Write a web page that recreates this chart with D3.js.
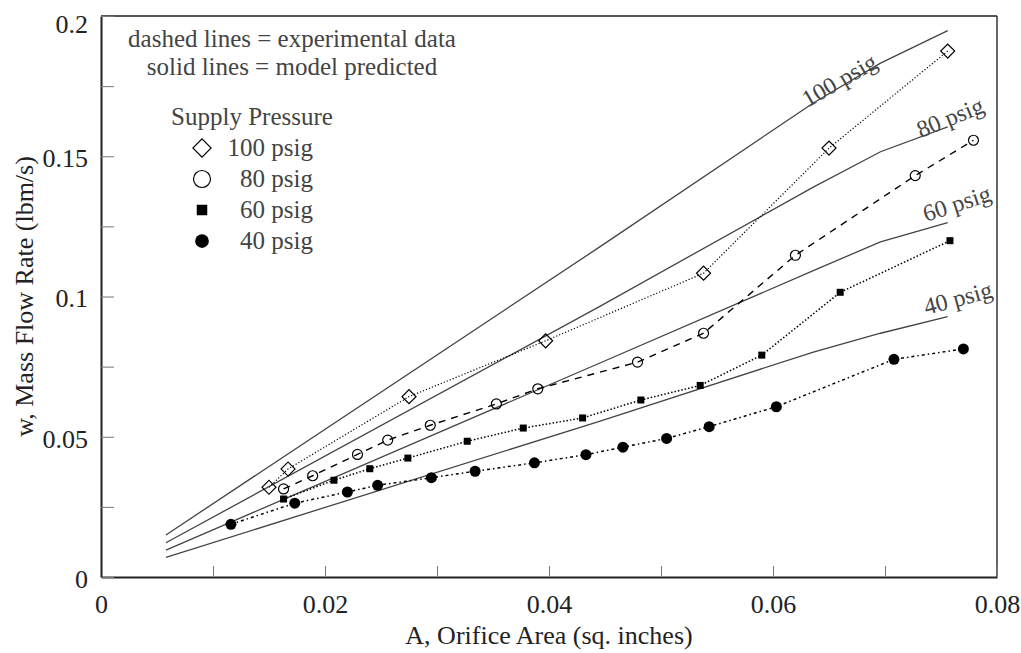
<!DOCTYPE html>
<html>
<head>
<meta charset="utf-8">
<script src="https://cdn.jsdelivr.net/npm/d3@7"></script>
<style>
  html, body { margin: 0; padding: 0; background: #fff; }
</style>
</head>
<body>
<div id="chart"></div>
<script>
// axis ticks
const xTicks = [0, 0.02, 0.04, 0.06, 0.08];
const xMinorTicks = [0.01, 0.03, 0.05, 0.07];
const xTickLabels = ['0', '0.02', '0.04', '0.06', '0.08'];
const yTicks = [0, 0.05, 0.1, 0.15, 0.2];
const yMinorTicks = [0.025, 0.075, 0.125, 0.175];
const yTickLabels = ['0', '0.05', '0.1', '0.15', '0.2'];

// experimental data (orifice area, mass flow)
const area100 = [0.0150, 0.0167, 0.0275, 0.0397, 0.0538, 0.0650, 0.0756];
const flow100 = [0.0320, 0.0385, 0.0643, 0.0842, 0.1083, 0.1529, 0.1875];

const area80 = [0.0163, 0.0189, 0.0229, 0.0256, 0.0294, 0.0353, 0.0390, 0.0479, 0.0538, 0.0620, 0.0727, 0.0779];
const flow80 = [0.0314, 0.0361, 0.0437, 0.0488, 0.0541, 0.0617, 0.0671, 0.0766, 0.0869, 0.1147, 0.1431, 0.1557];

const area60 = [0.0163, 0.0208, 0.0240, 0.0274, 0.0327, 0.0377, 0.0430, 0.0482, 0.0535, 0.0590, 0.0660, 0.0758];
const flow60 = [0.0278, 0.0345, 0.0386, 0.0424, 0.0484, 0.0531, 0.0567, 0.0631, 0.0683, 0.0791, 0.1015, 0.1199];

const area40 = [0.0116, 0.0173, 0.0220, 0.0247, 0.0295, 0.0334, 0.0387, 0.0433, 0.0466, 0.0505, 0.0543, 0.0603, 0.0708, 0.0770];
const flow40 = [0.0188, 0.0263, 0.0303, 0.0327, 0.0354, 0.0377, 0.0407, 0.0436, 0.0463, 0.0494, 0.0536, 0.0607, 0.0776, 0.0813];

// model predicted curves
const modelArea = [0.0058, 0.0445, 0.0636, 0.0696, 0.0756];
const model100 = [0.0150, 0.1176, 0.1690, 0.1832, 0.1948];
const model80 = [0.0122, 0.0964, 0.1390, 0.1516, 0.1605];
const model60 = [0.0096, 0.0762, 0.1092, 0.1195, 0.1263];
const model40 = [0.0070, 0.0555, 0.0802, 0.0869, 0.0928];

// curve labels: position in data units, rotation
const curveLabels = ['100 psig', '80 psig', '60 psig', '40 psig'];
const curveLabelX = [0.0659, 0.0758, 0.0764, 0.0765];
const curveLabelY = [0.1772, 0.1640, 0.1333, 0.0995];
const curveLabelAngle = [-30, -22, -18, -15];

const legendLabels = ['100 psig', '80 psig', '60 psig', '40 psig'];

const FONT = '"Liberation Serif", "Times New Roman", Times, "DejaVu Serif", serif';

const svgWidth = 1021;
const svgHeight = 653;
const margin = { top: 16, right: 24, bottom: 76, left: 101 };
const width = svgWidth - margin.left - margin.right;
const height = svgHeight - margin.top - margin.bottom;

const svg = d3.select('#chart').append('svg')
  .attr('width', svgWidth)
  .attr('height', svgHeight)
  .style('font-family', FONT)
;

const g = svg.append('g')
  .attr('transform', `translate(${ margin.left },${ margin.top })`)
;

const x = d3.scaleLinear().domain([0, 0.08]).range([0, width]);
const y = d3.scaleLinear().domain([0, 0.2]).range([height, 0]);

const line = d3.line()
  .x(d => x(d[0]))
  .y(d => y(d[1]));

const zip = (a, b) => a.map((v, i) => [v, b[i]]);

// frame: top and right are lighter
g.append('line')
  .attr('x1', 0).attr('x2', width).attr('y1', 0).attr('y2', 0)
  .attr('stroke', '#555').attr('stroke-width', 2)
;
g.append('line')
  .attr('x1', width).attr('x2', width).attr('y1', 0).attr('y2', height)
  .attr('stroke', '#333').attr('stroke-width', 1.5)
;

// x axis, ticks pointing inward
const xAxis = g.append('g')
  .attr('class', 'axis-x')
  .attr('transform', `translate(0,${ height })`)
  .call(
    d3.axisBottom(x)
      .tickValues(xTicks.concat(xMinorTicks))
      .tickSize(-11)
      .tickSizeOuter(0)
      .tickFormat(d => {
        const i = xTicks.indexOf(d);
        return i < 0 ? '' : xTickLabels[i];
      })
  )
  .attr('font-family', null)
  .attr('font-size', null)
;
xAxis.select('.domain').attr('stroke', '#222').attr('stroke-width', 2);
xAxis.selectAll('.tick line').attr('stroke', '#777').attr('stroke-width', 1);
xAxis.selectAll('.tick text')
  .attr('y', 36)
  .attr('dy', 0)
  .attr('fill', '#222')
  .style('font-family', FONT)
  .style('font-size', '26px')
;

const yAxis = g.append('g')
  .attr('class', 'axis-y')
  .call(
    d3.axisLeft(y)
      .tickValues(yTicks.concat(yMinorTicks))
      .tickSize(-13)
      .tickSizeOuter(0)
      .tickFormat(d => {
        const i = yTicks.indexOf(d);
        return i < 0 ? '' : yTickLabels[i];
      })
  )
  .attr('font-family', null)
  .attr('font-size', null)
;
yAxis.select('.domain').attr('stroke', '#222').attr('stroke-width', 2);
yAxis.selectAll('.tick line').attr('stroke', '#777').attr('stroke-width', 1);
yAxis.selectAll('.tick text')
  .attr('x', -13)
  .attr('dy', '0.4em')
  .attr('fill', '#222')
  .style('font-family', FONT)
  .style('font-size', '26px')
;
// keep the top label inside the picture
yAxis.selectAll('.tick').filter(d => d === 0.2).select('text').attr('dy', '0.62em');

// axis titles
svg.append('text')
  .attr('x', margin.left + width / 2)
  .attr('y', 644)
  .attr('text-anchor', 'middle')
  .attr('fill', '#222')
  .style('font-size', '26px')
  .text('A, Orifice Area (sq. inches)')
;
svg.append('text')
  .attr('transform', `translate(33,${ margin.top + height / 2 }) rotate(-90)`)
  .attr('text-anchor', 'middle')
  .attr('fill', '#222')
  .style('font-size', '26px')
  .text('w, Mass Flow Rate (lbm/s)')
;

// model lines
[model100, model80, model60, model40].forEach(m => {
  g.append('path')
    .datum(zip(modelArea, m))
    .attr('fill', 'none')
    .attr('stroke', '#444')
    .attr('stroke-width', 1.3)
    .attr('d', line)
  ;
});

curveLabels.forEach((t, i) => {
  g.append('text')
    .attr('transform', `translate(${ x(curveLabelX[i]) },${ y(curveLabelY[i]) }) rotate(${ curveLabelAngle[i] })`)
    .attr('text-anchor', 'middle')
    .attr('dy', '0.35em')
    .attr('fill', '#444')
    .style('font-size', '24px')
    .text(t)
  ;
});

// experimental lines
const series = [
  { data: zip(area100, flow100), dash: '1.2,2', width: 1.2, marker: 'diamond' },
  { data: zip(area80, flow80), dash: '7,6', width: 1.4, marker: 'circle' },
  { data: zip(area60, flow60), dash: '1.5,2', width: 1.5, marker: 'square' },
  { data: zip(area40, flow40), dash: '3,3,1.5,3', width: 1.5, marker: 'dot' },
];

function drawMarker(sel, type, big) {
  const k = big ? 1.3 : 1;
  if (type === 'diamond') {
    sel.append('path')
      .attr('d', d3.symbol(d3.symbolSquare, 98 * k * k)())
      .attr('transform', 'rotate(45)')
      .attr('fill', 'none')
      .attr('stroke', '#000')
      .attr('stroke-width', 1.2)
    ;
  } else if (type === 'circle') {
    sel.append('circle')
      .attr('r', 5 * (big ? 1.7 : 1))
      .attr('fill', 'none')
      .attr('stroke', '#000')
      .attr('stroke-width', 1.2)
    ;
  } else if (type === 'square') {
    sel.append('rect')
      .attr('x', -3.5 * (big ? 1.5 : 1))
      .attr('y', -3.5 * (big ? 1.5 : 1))
      .attr('width', 7 * (big ? 1.5 : 1))
      .attr('height', 7 * (big ? 1.5 : 1))
      .attr('fill', '#000')
    ;
  } else {
    sel.append('circle')
      .attr('r', 5.5 * (big ? 1.25 : 1))
      .attr('fill', '#000')
    ;
  }
}

series.forEach(s => {
  g.append('path')
    .datum(s.data)
    .attr('fill', 'none')
    .attr('stroke', '#000')
    .attr('stroke-width', s.width)
    .attr('stroke-dasharray', s.dash)
    .attr('d', line)
  ;
  g.append('g').selectAll('g')
    .data(s.data)
    .join('g')
    .attr('transform', d => `translate(${ x(d[0]) },${ y(d[1]) })`)
    .each(function() { drawMarker(d3.select(this), s.marker, false); })
  ;
});

// legend
const legend = svg.append('g').attr('class', 'legend');

legend.append('text')
  .attr('x', 292).attr('y', 47)
  .attr('text-anchor', 'middle')
  .attr('fill', '#444')
  .style('font-size', '25px')
  .text('dashed lines = experimental data')
;
legend.append('text')
  .attr('x', 292).attr('y', 75)
  .attr('text-anchor', 'middle')
  .attr('fill', '#444')
  .style('font-size', '25px')
  .text('solid lines = model predicted')
;
legend.append('text')
  .attr('x', 252).attr('y', 125)
  .attr('text-anchor', 'middle')
  .attr('fill', '#444')
  .style('font-size', '25px')
  .text('Supply Pressure')
;

legendLabels.forEach((t, i) => {
  const cy = 148 + i * 31;
  const item = legend.append('g');
  item.append('g')
    .attr('transform', `translate(202,${ cy })`)
    .call(sel => drawMarker(sel, series[i].marker, true))
  ;
  item.append('text')
    .attr('x', 313).attr('y', cy + 8)
    .attr('text-anchor', 'end')
    .attr('fill', '#444')
    .style('font-size', '25px')
    .text(t)
  ;
});
</script>
</body>
</html>
